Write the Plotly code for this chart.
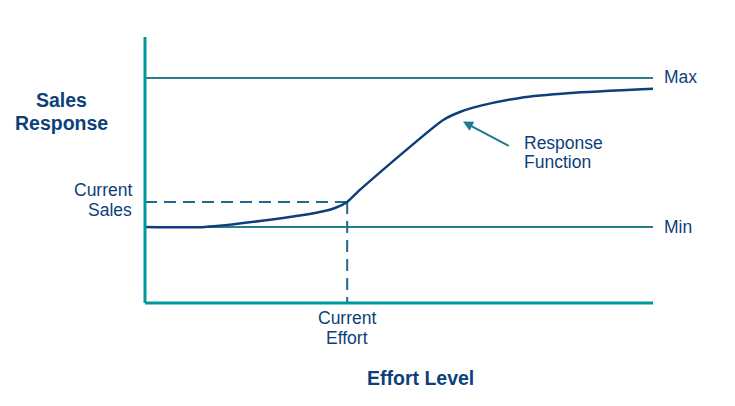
import plotly.graph_objects as go

# Data (abstract units: effort 0-100, sales response 0-100)
effort = [0, 11.8, 22.6, 34.4, 37.4, 39.8, 42.3, 58.7, 62.0, 65.9, 73.8, 83.7, 100]
response = [28.6, 28.6, 30.8, 34.2, 35.7, 38.0, 42.5, 68.8, 71.8, 74.1, 77.1, 78.9, 80.5]
min_level = 28.6
max_level = 84.6
current_effort = 39.8
current_sales = 38.0
x_max = 100
y_max = 100

NAVY = "#0d3f7a"
TEAL_AXIS = "#00999a"
LINE = "#2a7d8e"
DASH = "#1f6b88"
FONT = "Liberation Sans, Arial, sans-serif"

fig = go.Figure()

# Max / Min lines
for lvl in (max_level, min_level):
    fig.add_trace(go.Scatter(x=[0, x_max], y=[lvl, lvl], mode="lines",
                             line=dict(color=LINE, width=2), hoverinfo="skip"))

# Dashed current lines
fig.add_trace(go.Scatter(x=[0, current_effort], y=[current_sales, current_sales], mode="lines",
                         line=dict(color=DASH, width=2, dash="12px,7px"), hoverinfo="skip"))
fig.add_trace(go.Scatter(x=[current_effort, current_effort], y=[current_sales, 0], mode="lines",
                         line=dict(color=DASH, width=2, dash="12px,7px"), hoverinfo="skip"))

# Response curve
fig.add_trace(go.Scatter(x=effort, y=response, mode="lines",
                         line=dict(color=NAVY, width=2.5, shape="spline", smoothing=0.6),
                         hoverinfo="skip"))

# Axes lines
fig.add_trace(go.Scatter(x=[0, x_max], y=[0, 0], mode="lines",
                         line=dict(color=TEAL_AXIS, width=3), hoverinfo="skip"))
fig.add_trace(go.Scatter(x=[0, 0], y=[0, y_max], mode="lines",
                         line=dict(color=TEAL_AXIS, width=3), hoverinfo="skip"))

ann = []
def txt(x, y, s, size=17.5, bold=False, xanchor="center"):
    if bold:
        s = "<b>" + s + "</b>"
    ann.append(dict(x=x, y=y, xref="x", yref="y", text=s, showarrow=False,
                    xanchor=xanchor, yanchor="middle",
                    font=dict(family=FONT, size=size, color=NAVY)))

txt(x_max + 1.8, 85.0, "Max", xanchor="left")
txt(x_max + 1.8, min_level, "Min", xanchor="left")
txt(-2.1, 42.6, "Current", xanchor="right")
txt(-2.1, 35.1, "Sales", xanchor="right")
txt(current_effort, -5.6, "Current")
txt(current_effort, -13.1, "Effort")
txt(74.3, 60.1, "Response", xanchor="left")
txt(74.3, 53.0, "Function", xanchor="left")
txt(-16.5, 76.3, "Sales", size=19.5, bold=True)
txt(-16.5, 67.6, "Response", size=19.5, bold=True)
txt(54.2, -28.3, "Effort Level", size=19.5, bold=True)

# Arrow pointing to curve
ann.append(dict(x=62.6, y=68.2, ax=71.9, ay=58.8, xref="x", yref="y", axref="x", ayref="y",
                text="", showarrow=True, arrowhead=2, arrowsize=1, arrowwidth=2,
                arrowcolor="#1e7a8c"))

# Full-figure plot area; ranges chosen so that 0..100 spans the chart frame
fig.update_layout(
    width=735, height=406,
    margin=dict(l=0, r=0, t=0, b=0),
    paper_bgcolor="white", plot_bgcolor="white",
    showlegend=False,
    xaxis=dict(range=[-28.54, 116.14], visible=False, fixedrange=True),
    yaxis=dict(range=[-38.72, 113.9], visible=False, fixedrange=True),
    annotations=ann,
)

fig.write_html("out.html")
